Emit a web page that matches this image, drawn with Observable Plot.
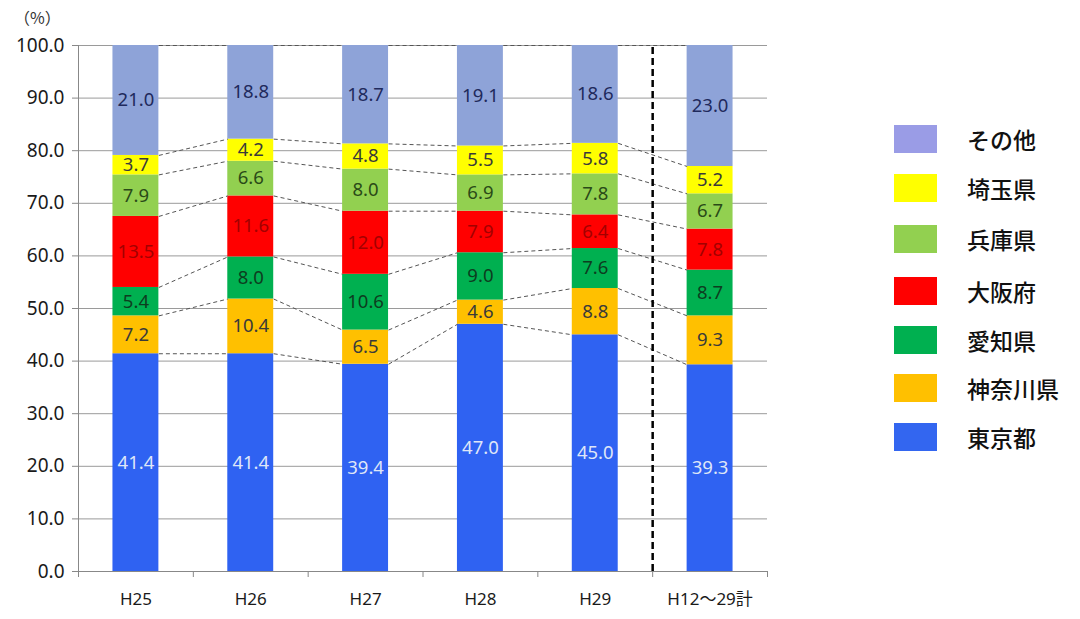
<!DOCTYPE html>
<html><head><meta charset="utf-8">
<script src="https://cdn.jsdelivr.net/npm/d3@7"></script>
<script src="https://cdn.jsdelivr.net/npm/@observablehq/plot@0.6"></script>
<style>
body{margin:0;background:#fff;font-family:"Noto Sans CJK JP","Noto Sans",sans-serif;}
#wrap{position:relative;width:1080px;height:619px;}
#unit{position:absolute;left:14px;top:5px;font-size:16px;color:#333;}
.leg{position:absolute;left:894px;height:28px;display:flex;align-items:center;}
.leg .sw{width:43px;height:28px;}
.leg .tx{margin-left:30px;font-size:23px;color:#111;font-weight:500;}
</style></head>
<body><div id="wrap"><div id="unit">（%）</div></div>
<script>
const categories = ["H25","H26","H27","H28","H29","H12～29計"];
const prefectures = ["東京都","神奈川県","愛知県","大阪府","兵庫県","埼玉県","その他"];
const tokyo    = [41.4, 41.4, 39.4, 47.0, 45.0, 39.3];
const kanagawa = [7.2, 10.4, 6.5, 4.6, 8.8, 9.3];
const aichi    = [5.4, 8.0, 10.6, 9.0, 7.6, 8.7];
const osaka    = [13.5, 11.6, 12.0, 7.9, 6.4, 7.8];
const hyogo    = [7.9, 6.6, 8.0, 6.9, 7.8, 6.7];
const saitama  = [3.7, 4.2, 4.8, 5.5, 5.8, 5.2];
const other    = [21.0, 18.8, 18.7, 19.1, 18.6, 23.0];
const yTicks = [0, 10, 20, 30, 40, 50, 60, 70, 80, 90, 100];
const colors = ["#2F62F2", "#FFC000", "#00B050", "#FF0000", "#92D050", "#FFFF00", "#8EA3D8"];
const labelColors = ["#dfe6f8", "#3a3a3a", "#0d3d1f", "#a30000", "#2a4a18", "#3a3a3a", "#1f2a5c"];
const legendColors = ["#3366F0", "#FFC000", "#00B050", "#FF0000", "#92D050", "#FFFF00", "#9A9CE6"];

const series = [tokyo, kanagawa, aichi, osaka, hyogo, saitama, other];
const rows = [];
const tops = categories.map(() => []);
categories.forEach((cat, i) => {
  let cum = 0;
  series.forEach((s, j) => {
    const y1 = cum; cum += s[i];
    const y2 = Math.min(cum, 100);
    rows.push({i, cat, pref: prefectures[j], j, value: s[i], y1, y2, mid: (y1 + y2) / 2});
    tops[i][j] = y2;
  });
});
const links = [];
for (let i = 0; i < categories.length - 1; i++) {
  for (let j = 0; j < prefectures.length; j++) {
    links.push({x1: i + 0.2, x2: i + 0.8, y1: tops[i][j], y2: tops[i + 1][j], j});
  }
}
const idx = categories.map((_, i) => i);
const bounds = [-0.5, 0.5, 1.5, 2.5, 3.5, 4.5, 5.5];

const chart = Plot.plot({
  width: 1080, height: 619,
  marginLeft: 78, marginRight: 313, marginTop: 45, marginBottom: 48,
  style: {fontFamily: "'Noto Sans', 'Noto Sans CJK JP', sans-serif", background: "#fff"},
  x: {type: "linear", domain: [-0.5, 5.5]},
  y: {domain: [0, 100]},
  marks: [
    Plot.ruleY(yTicks.slice(1), {stroke: "#9a9a9a", strokeWidth: 1}),
    Plot.axisY({ticks: yTicks, tickFormat: d3.format(".1f"), tickSize: 6, tickPadding: 8, fontSize: 19, color: "#1a1a1a", stroke: "#888"}),
    Plot.axisX({ticks: bounds, tickFormat: () => "", tickSize: 6, stroke: "#888"}),
    Plot.axisX({ticks: idx, tickFormat: i => categories[i], tickSize: 0, tickPadding: 21, fontSize: 17, color: "#1a1a1a"}),
    Plot.ruleX([-0.5], {stroke: "#888"}),
    Plot.ruleY([0], {stroke: "#888"}),
    Plot.rectY(rows, {x1: d => d.i - 0.2, x2: d => d.i + 0.2, y1: "y1", y2: "y2", fill: d => colors[d.j]}),
    Plot.link(links, {x1: "x1", x2: "x2", y1: "y1", y2: "y2", stroke: "#555", strokeWidth: 1, strokeDasharray: "4,3"}),
    Plot.ruleX([4.5], {y1: 0, y2: 100, stroke: "#000", strokeWidth: 2.5, strokeDasharray: "7,4"}),
    Plot.text(rows, {x: "i", y: "mid", text: d => d.value.toFixed(1), fill: d => labelColors[d.j], fontSize: 18.5})
  ]
});
const wrap = document.getElementById("wrap");
wrap.appendChild(chart);
const legendOrder = [6, 5, 4, 3, 2, 1, 0];
const centers = [139, 188, 239, 291, 340, 388, 437];
legendOrder.forEach((j, k) => {
  const d = document.createElement("div");
  d.className = "leg";
  d.style.top = (centers[k] - 14) + "px";
  d.innerHTML = `<div class="sw" style="background:${legendColors[j]}"></div><div class="tx">${prefectures[j]}</div>`;
  wrap.appendChild(d);
});
</script></body></html>
